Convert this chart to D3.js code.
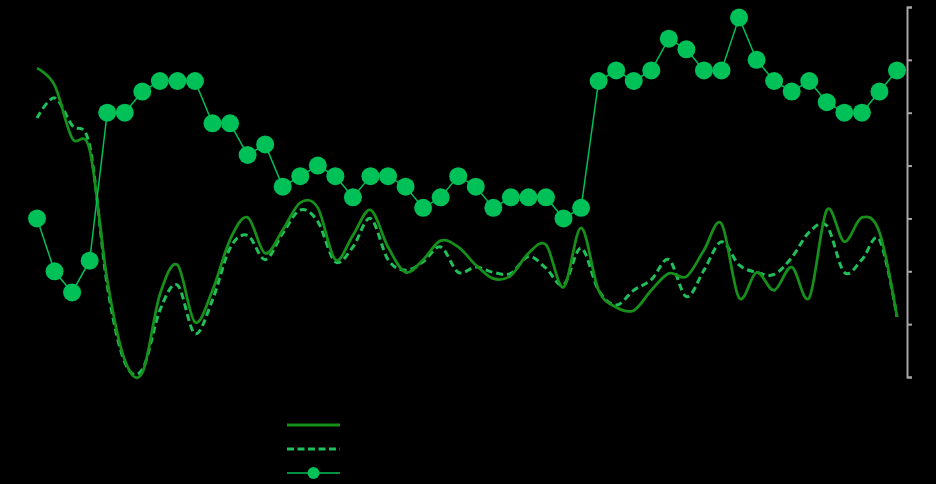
<!DOCTYPE html>
<html>
<head>
<meta charset="utf-8">
<script src="https://cdn.jsdelivr.net/npm/d3@7"></script>
<style>
  html, body { margin: 0; padding: 0; background: #000; }
  svg { display: block; font-family: "Liberation Sans", Arial, sans-serif; }
</style>
</head>
<body>
<script>
// values, one per period
var seriesSolid = [2.92, 2.76, 2.26, 2.15, 0.92, 0.16, 0.04, 0.78, 1.06, 0.52,
                   0.82, 1.30, 1.51, 1.17, 1.39, 1.65, 1.60, 1.11, 1.34, 1.58,
                   1.23, 0.99, 1.11, 1.29, 1.23, 1.06, 0.93, 0.96, 1.17, 1.25,
                   0.85, 1.41, 0.82, 0.66, 0.63, 0.82, 0.98, 0.95, 1.20, 1.45,
                   0.75, 0.99, 0.82, 1.04, 0.75, 1.58, 1.28, 1.51, 1.37, 0.57];
var seriesDashed = [2.45, 2.64, 2.38, 2.19, 0.87, 0.14, 0.07, 0.63, 0.87, 0.41,
                    0.73, 1.22, 1.34, 1.11, 1.36, 1.58, 1.47, 1.09, 1.23, 1.50,
                    1.11, 1.01, 1.09, 1.23, 0.99, 1.04, 0.99, 0.98, 1.14, 1.03,
                    0.87, 1.22, 0.82, 0.68, 0.82, 0.92, 1.11, 0.76, 1.01, 1.28,
                    1.06, 0.99, 0.97, 1.13, 1.37, 1.43, 0.99, 1.11, 1.30, 0.57];
var seriesDots = [1.5, 1.0, 0.8, 1.1, 2.5, 2.5, 2.7, 2.8, 2.8, 2.8,
                  2.4, 2.4, 2.1, 2.2, 1.8, 1.9, 2.0, 1.9, 1.7, 1.9,
                  1.9, 1.8, 1.6, 1.7, 1.9, 1.8, 1.6, 1.7, 1.7, 1.7,
                  1.5, 1.6, 2.8, 2.9, 2.8, 2.9, 3.2, 3.1, 2.9, 2.9,
                  3.4, 3.0, 2.8, 2.7, 2.8, 2.6, 2.5, 2.5, 2.7, 2.9];
var yTicks = [0, 0.5, 1, 1.5, 2, 2.5, 3, 3.5];
var legendNames = ["Series 1", "Series 2", "Series 3"];

var W = 936, H = 484;
var svg = d3.select("body").append("svg").attr("width", W).attr("height", H);
svg.append("rect").attr("width", W).attr("height", H).attr("fill", "#000");

var idx = d3.range(seriesDots.length);
var x = d3.scalePoint().domain(idx).range([37, 897]);
var y = d3.scaleLinear().domain([0, 3.5]).range([377, 7]);

// right axis, grey line and ticks, labels black like the picture
var ax = svg.append("g")
	.attr("transform", "translate(907,0)")
	.call(d3.axisRight(y).tickValues(yTicks).tickSize(5).tickSizeOuter(5));
ax.select(".domain").attr("stroke", "#a6a6a6").attr("stroke-width", 2);
ax.selectAll(".tick line").attr("stroke", "#a6a6a6").attr("stroke-width", 2);
ax.selectAll(".tick text").attr("fill", "#000").style("font-size", "12px");

var smooth = d3.line()
	.x(function(d, i) { return x(i); })
	.y(function(d) { return y(d); })
	.curve(d3.curveCardinal.tension(0));
var straight = d3.line()
	.x(function(d, i) { return x(i); })
	.y(function(d) { return y(d); });

var cSolid = "#16901a", cDash = "#1fc05a", cDot = "#00c058";

svg.append("path").datum(seriesDashed)
	.attr("d", smooth).attr("fill", "none")
	.attr("stroke", cDash).attr("stroke-width", 3)
	.attr("stroke-dasharray", "7,4");
svg.append("path").datum(seriesSolid)
	.attr("d", smooth).attr("fill", "none")
	.attr("stroke", cSolid).attr("stroke-width", 2.75);

svg.append("path").datum(seriesDots)
	.attr("d", straight).attr("fill", "none")
	.attr("stroke", cDot).attr("stroke-width", 1.5);
svg.append("g").selectAll("circle").data(seriesDots).enter().append("circle")
	.attr("cx", function(d, i) { return x(i); })
	.attr("cy", function(d) { return y(d); })
	.attr("r", 9)
	.attr("fill", cDot);

// legend
var lg = svg.append("g").attr("transform", "translate(287,0)");
var rows = [425, 449, 473];
lg.append("line").attr("x1", 0).attr("x2", 53).attr("y1", rows[0]).attr("y2", rows[0])
	.attr("stroke", cSolid).attr("stroke-width", 3);
lg.append("line").attr("x1", 0).attr("x2", 53).attr("y1", rows[1]).attr("y2", rows[1])
	.attr("stroke", cDash).attr("stroke-width", 3).attr("stroke-dasharray", "7,3.5");
lg.append("line").attr("x1", 0).attr("x2", 53).attr("y1", rows[2]).attr("y2", rows[2])
	.attr("stroke", cDot).attr("stroke-width", 1.5);
lg.append("circle").attr("cx", 26.5).attr("cy", rows[2]).attr("r", 6).attr("fill", cDot);
lg.selectAll("text").data(legendNames).enter().append("text")
	.attr("x", 62).attr("y", function(d, i) { return rows[i] + 4; })
	.attr("fill", "#000").style("font-size", "12px")
	.text(function(d) { return d; });
</script>
</body>
</html>
